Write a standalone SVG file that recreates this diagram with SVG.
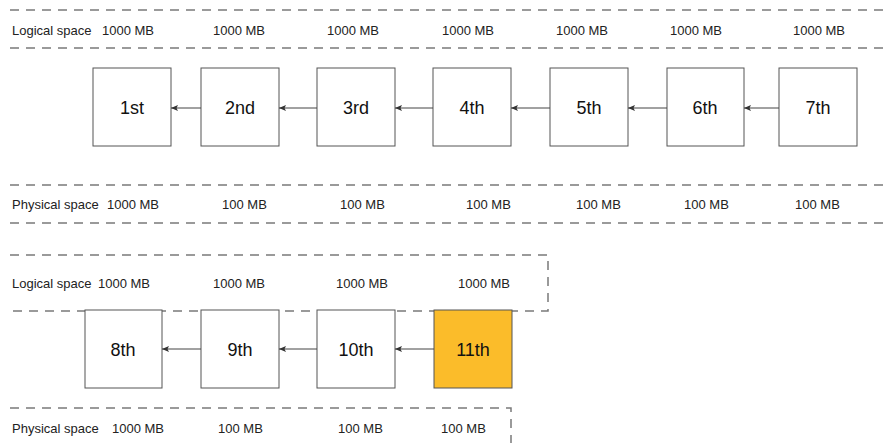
<svg xmlns="http://www.w3.org/2000/svg" width="885" height="443" viewBox="0 0 885 443">
<defs>
<style>
.dash{fill:none;stroke:#7a7a7a;stroke-width:1.5;stroke-dasharray:9 7}
.box{fill:#ffffff;stroke:#555555;stroke-width:1}
.hi{fill:#fbbc2a;stroke:#555555;stroke-width:1}
.lbl{font-family:"Liberation Sans",Arial,sans-serif;font-size:18px;fill:#111111;text-anchor:middle}
.sm{font-family:"Liberation Sans",Arial,sans-serif;font-size:13px;fill:#222222}
.conn{stroke:#444444;stroke-width:1;fill:none;marker-end:url(#ah)}
</style>
<marker id="ah" viewBox="0 0 8 8" refX="7" refY="4" markerWidth="8" markerHeight="8" orient="auto" markerUnits="userSpaceOnUse">
<path d="M8,1 L1,4 L8,7 L6.5,4 Z" fill="#333333" transform="rotate(180 4 4)"/>
</marker>
</defs>

<g id="bands">
<line class="dash" x1="10" y1="10" x2="885" y2="10"/>
<line class="dash" x1="10" y1="48" x2="885" y2="48"/>
<line class="dash" x1="10" y1="185" x2="885" y2="185"/>
<line class="dash" x1="10" y1="223" x2="885" y2="223"/>
<path class="dash" d="M10,255 H548 V311 H10"/>
<path class="dash" d="M10,408 H511 V443"/>
</g>

<g id="labels">
<text class="sm" x="12" y="35">Logical space</text>
<text class="sm" x="102" y="35">1000 MB</text>
<text class="sm" x="213" y="35">1000 MB</text>
<text class="sm" x="327" y="35">1000 MB</text>
<text class="sm" x="442" y="35">1000 MB</text>
<text class="sm" x="556" y="35">1000 MB</text>
<text class="sm" x="670" y="35">1000 MB</text>
<text class="sm" x="793" y="35">1000 MB</text>

<text class="sm" x="12" y="209">Physical space</text>
<text class="sm" x="107" y="209">1000 MB</text>
<text class="sm" x="222" y="209">100 MB</text>
<text class="sm" x="340" y="209">100 MB</text>
<text class="sm" x="466" y="209">100 MB</text>
<text class="sm" x="576" y="209">100 MB</text>
<text class="sm" x="684" y="209">100 MB</text>
<text class="sm" x="795" y="209">100 MB</text>

<text class="sm" x="12" y="288">Logical space</text>
<text class="sm" x="98" y="288">1000 MB</text>
<text class="sm" x="213" y="288">1000 MB</text>
<text class="sm" x="336" y="288">1000 MB</text>
<text class="sm" x="458" y="288">1000 MB</text>

<text class="sm" x="12" y="433">Physical space</text>
<text class="sm" x="112" y="433">1000 MB</text>
<text class="sm" x="218" y="433">100 MB</text>
<text class="sm" x="338" y="433">100 MB</text>
<text class="sm" x="441" y="433">100 MB</text>
</g>

<g id="n1"><rect class="box" x="93" y="68" width="78" height="78"/><text class="lbl" x="132" y="114">1st</text></g>
<g id="n2"><rect class="box" x="201" y="68" width="78" height="78"/><text class="lbl" x="240" y="114">2nd</text></g>
<g id="n3"><rect class="box" x="317" y="68" width="78" height="78"/><text class="lbl" x="356" y="114">3rd</text></g>
<g id="n4"><rect class="box" x="433" y="68" width="78" height="78"/><text class="lbl" x="472" y="114">4th</text></g>
<g id="n5"><rect class="box" x="550" y="68" width="78" height="78"/><text class="lbl" x="589" y="114">5th</text></g>
<g id="n6"><rect class="box" x="667" y="68" width="77" height="78"/><text class="lbl" x="705" y="114">6th</text></g>
<g id="n7"><rect class="box" x="779" y="68" width="78" height="78"/><text class="lbl" x="818" y="114">7th</text></g>

<g id="n8"><rect class="box" x="85" y="310" width="77" height="78"/><text class="lbl" x="123" y="356">8th</text></g>
<g id="n9"><rect class="box" x="201" y="310" width="78" height="78"/><text class="lbl" x="240" y="356">9th</text></g>
<g id="n10"><rect class="box" x="317" y="310" width="78" height="78"/><text class="lbl" x="356" y="356">10th</text></g>
<g id="n11"><rect class="hi" x="434" y="310" width="78" height="78"/><text class="lbl" x="473" y="356">11th</text></g>

<g id="connectors">
<line class="conn" x1="201" y1="108" x2="171" y2="108"/>
<line class="conn" x1="317" y1="108" x2="279" y2="108"/>
<line class="conn" x1="433" y1="108" x2="395" y2="108"/>
<line class="conn" x1="550" y1="108" x2="511" y2="108"/>
<line class="conn" x1="667" y1="108" x2="628" y2="108"/>
<line class="conn" x1="779" y1="108" x2="744" y2="108"/>
<line class="conn" x1="201" y1="349" x2="162" y2="349"/>
<line class="conn" x1="317" y1="349" x2="279" y2="349"/>
<line class="conn" x1="434" y1="349" x2="395" y2="349"/>
</g>
</svg>
